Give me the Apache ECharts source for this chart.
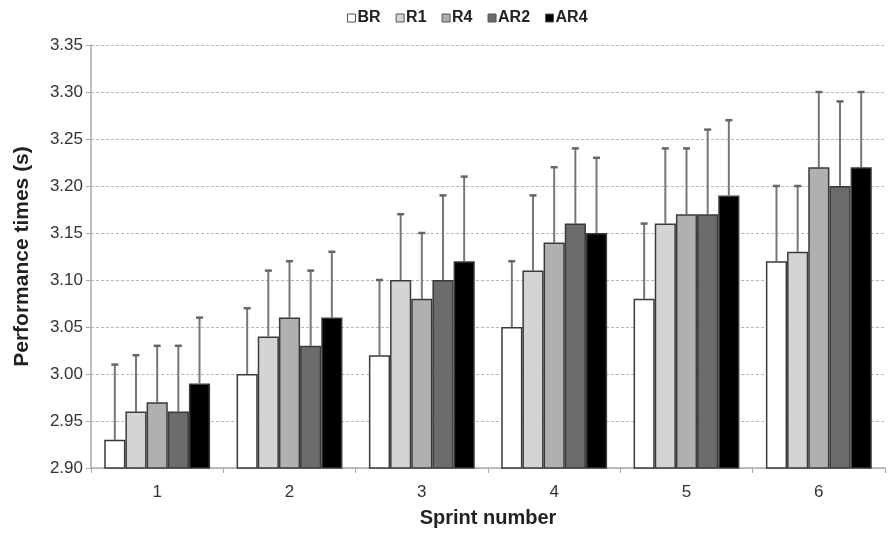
<!DOCTYPE html>
<html>
<head>
<meta charset="utf-8">
<script src="https://cdn.jsdelivr.net/npm/echarts@6/dist/echarts.min.js"></script>
<style>
  html, body { margin: 0; padding: 0; background: #fff; }
  #chart { width: 891px; height: 536px; }
</style>
</head>
<body>
<div id="chart"></div>
<script>
// sprint categories
const sprints = ['1', '2', '3', '4', '5', '6'];
const yTicks = [2.90, 2.95, 3.00, 3.05, 3.10, 3.15, 3.20, 3.25, 3.30, 3.35];

// mean performance times (s)
const BR  = [2.93, 3.00, 3.02, 3.05, 3.08, 3.12];
const R1  = [2.96, 3.04, 3.10, 3.11, 3.16, 3.13];
const R4  = [2.97, 3.06, 3.08, 3.14, 3.17, 3.22];
const AR2 = [2.96, 3.03, 3.10, 3.16, 3.17, 3.20];
const AR4 = [2.99, 3.06, 3.12, 3.15, 3.19, 3.22];

// standard deviations (upper whiskers)
const BR_sd  = [0.08, 0.07, 0.08, 0.07, 0.08, 0.08];
const R1_sd  = [0.06, 0.07, 0.07, 0.08, 0.08, 0.07];
const R4_sd  = [0.06, 0.06, 0.07, 0.08, 0.07, 0.08];
const AR2_sd = [0.07, 0.08, 0.09, 0.08, 0.09, 0.09];
const AR4_sd = [0.07, 0.07, 0.09, 0.08, 0.08, 0.08];

const groups = [
  { name: 'BR',  mean: BR,  sd: BR_sd,  color: '#ffffff' },
  { name: 'R1',  mean: R1,  sd: R1_sd,  color: '#d4d4d4' },
  { name: 'R4',  mean: R4,  sd: R4_sd,  color: '#b0b0b0' },
  { name: 'AR2', mean: AR2, sd: AR2_sd, color: '#6c6c6c' },
  { name: 'AR4', mean: AR4, sd: AR4_sd, color: '#000000' }
];

const catGap = 0.2; // fraction of band left empty

const myChart = echarts.init(document.getElementById('chart'));

const barSeries = groups.map((g) => {
  return {
    name: g.name,
    type: 'bar',
    barGap: '0%',
    barCategoryGap: (catGap * 100) + '%',
    itemStyle: { color: g.color, borderColor: '#3a3a3a', borderWidth: 1.5 },
    emphasis: { disabled: true },
    data: g.mean,
    z: 2
  };
});

const errSeries = groups.map((g, i) => {
  return {
    name: g.name + ' sd',
    type: 'custom',
    z: 1,
    silent: true,
    data: g.mean.map((m, k) => [k, m, m + g.sd[k]]),
    renderItem(params, api) {
      const band = api.size([1, 0])[0];
      const bw = band * (1 - catGap) / groups.length;
      const base = api.coord([api.value(0), api.value(1)]);
      const top = api.coord([api.value(0), api.value(2)]);
      const x = base[0] - band * (1 - catGap) / 2 + bw * (i + 0.5);
      const style = { stroke: '#777777', lineWidth: 2 };
      return {
        type: 'group',
        children: [
          { type: 'line', shape: { x1: x, y1: base[1], x2: x, y2: top[1] }, style },
          { type: 'line', shape: { x1: x - 3.5, y1: top[1], x2: x + 3.5, y2: top[1] }, style: { stroke: '#666666', lineWidth: 2.5 } }
        ]
      };
    }
  };
});

const option = {
  animation: false,
  textStyle: { fontFamily: 'Liberation Sans, Arial, sans-serif' },
  legend: {
    data: groups.map((g) => g.name),
    top: 5,
    left: 342,
    itemWidth: 8,
    itemHeight: 8,
    itemGap: 15,
    icon: 'rect',
    textStyle: { fontSize: 16, fontWeight: 'bold', color: '#222', padding: [0, 0, 0, -3] },
    itemStyle: { borderColor: '#555', borderWidth: 1 }
  },
  grid: { left: 91, right: 6, top: 45, bottom: 68 },
  xAxis: {
    type: 'category',
    data: sprints,
    name: 'Sprint number',
    nameLocation: 'middle',
    nameGap: 40,
    nameTextStyle: { fontSize: 20, fontWeight: 'bold', color: '#222' },
    axisLine: { lineStyle: { color: '#aaa', width: 1.5 } },
    axisTick: { show: true, length: 5, lineStyle: { color: '#aaa' } },
    axisLabel: { fontSize: 17, color: '#333', margin: 16 }
  },
  yAxis: {
    type: 'value',
    min: yTicks[0],
    max: yTicks[yTicks.length - 1],
    interval: 0.05,
    name: 'Performance times (s)',
    nameLocation: 'middle',
    nameGap: 58,
    nameTextStyle: { fontSize: 21, fontWeight: 'bold', color: '#222' },
    axisLine: { show: true, lineStyle: { color: '#aaa', width: 1.5 } },
    axisTick: { show: true, length: 5, lineStyle: { color: '#aaa' } },
    axisLabel: { fontSize: 17, color: '#333', margin: 8, formatter: (v) => v.toFixed(2) },
    splitLine: { show: true, lineStyle: { color: '#b8b8b8', type: [3, 2] } }
  },
  series: barSeries.concat(errSeries)
};

myChart.setOption(option);
</script>
</body>
</html>
